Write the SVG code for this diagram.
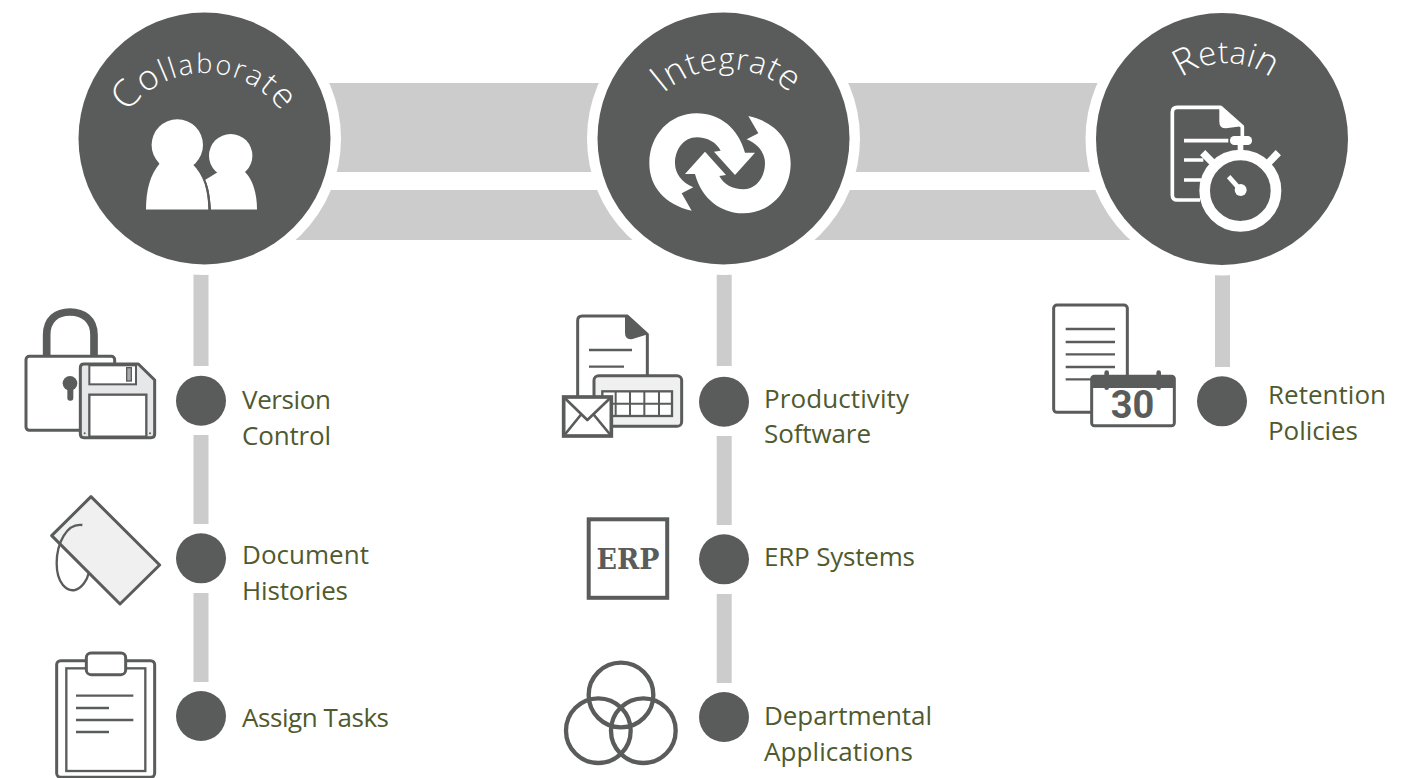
<svg xmlns="http://www.w3.org/2000/svg" width="1417" height="778" viewBox="0 0 1417 778">
<style>
.hub{fill:#5a5c5b}.halo{fill:#fff}.band{fill:#ccc}.dot{fill:#5a5c5b}
.title{font-family:"Open Sans","Liberation Sans",sans-serif;font-weight:300;font-size:30px;fill:#fff;text-anchor:middle}
.lbl{font-family:"Open Sans","Liberation Sans",sans-serif;font-size:26px;fill:#4f5a2f}
.s{fill:none;stroke:#5a5c5b;stroke-linejoin:round}
.w{fill:none;stroke:#fff;stroke-linejoin:round}
.f{fill:#5a5c5b}
</style>
<defs>
<path id="arcC" d="M110,168A95,95 0 0 1 300,168"/>
<path id="arcI" d="M632,164A95,95 0 0 1 822,164"/>
<path id="arcR" d="M1151,138A75,75 0 0 1 1301,138"/>
</defs>
<rect width="1417" height="778" fill="#fff"/>
<g id="connectors">
<rect class="band" x="204" y="83" width="1018" height="89"/>
<rect class="band" x="204" y="190" width="1018" height="50"/>
<rect class="band" x="193.500" y="273" width="15" height="93"/>
<rect class="band" x="193.500" y="435" width="15" height="89"/>
<rect class="band" x="193.500" y="593" width="15" height="89"/>
<rect class="band" x="716.700" y="273" width="15" height="93"/>
<rect class="band" x="716.700" y="436" width="15" height="89"/>
<rect class="band" x="716.700" y="594" width="15" height="89"/>
<rect class="band" x="1215" y="274" width="15" height="93"/>
</g>
<g id="collaborate">
<circle class="halo" cx="204.500" cy="138.500" r="136.500"/>
<circle class="hub" cx="204.500" cy="138.500" r="126"/>
<text class="title" letter-spacing="1.800"><textPath href="#arcC" startOffset="50%"><tspan font-size="38">C</tspan><tspan font-size="35">o</tspan><tspan font-size="31">l</tspan><tspan font-size="29">l</tspan><tspan font-size="28">a</tspan><tspan font-size="27">b</tspan><tspan font-size="27">o</tspan><tspan font-size="28">r</tspan><tspan font-size="29">a</tspan><tspan font-size="32">t</tspan><tspan font-size="35">e</tspan></textPath></text>
<g fill="#fff">
<circle cx="230.700" cy="155.700" r="21.700"/>
<path d="M211,209.500C210,198 209,188 205,180L218,172H245C253,180 257,194 257,209.500Z"/>
<path d="M146,209.500C146,190 150,175 160,163H193C204,175 208,190 208.300,209.500Z"/>
<path d="M193,163C205,175 209,190 209.700,209.500" fill="none" stroke="#5a5c5b" stroke-width="2"/>
<circle cx="177.300" cy="145" r="25.700"/>
</g>
</g>
<g id="integrate">
<circle class="halo" cx="723.500" cy="138.500" r="136.500"/>
<circle class="hub" cx="723.500" cy="138.500" r="126"/>
<text class="title" letter-spacing="0.800"><textPath href="#arcI" startOffset="50%"><tspan font-size="38">I</tspan><tspan font-size="35">n</tspan><tspan font-size="33">t</tspan><tspan font-size="31">e</tspan><tspan font-size="30">g</tspan><tspan font-size="30">r</tspan><tspan font-size="31">a</tspan><tspan font-size="33">t</tspan><tspan font-size="35">e</tspan></textPath></text>
<g transform="translate(580,0) scale(.33333)" fill="#fff">
<path d="M335,632C255,615 208,560 208,490C208,405 270,340 350,340C420,340 475,385 495,458L525,458L465,525L402,455L422,452C410,428 382,412 350,412C312,412 285,448 285,490C285,520 305,548 340,562L305,580Z"/>
<path d="M335,632C255,615 208,560 208,490C208,405 270,340 350,340C420,340 475,385 495,458L525,458L465,525L402,455L422,452C410,428 382,412 350,412C312,412 285,448 285,490C285,520 305,548 340,562L305,580Z" transform="rotate(180 420 490)"/>
</g>
</g>
<g id="retain">
<circle class="halo" cx="1222" cy="139" r="136.500"/>
<circle class="hub" cx="1222" cy="139" r="126"/>
<text class="title"><textPath href="#arcR" startOffset="50%"><tspan font-size="37">R</tspan><tspan font-size="33">e</tspan><tspan font-size="31">t</tspan><tspan font-size="31">a</tspan><tspan font-size="33">i</tspan><tspan font-size="36">n</tspan></textPath></text>
<g transform="translate(1060,0) scale(.33333)">
<path class="w" stroke-width="11" d="M420,600H352Q337,600 337,585V337Q337,322 352,322H482L547,380V412"/>
<path fill="#fff" d="M478,322L478,365Q478,385 498,385L550,378Z"/>
<path class="w" stroke-width="11" d="M372,422H505M372,480H430M372,540H425"/>
<circle class="w" cx="541" cy="572" r="107" stroke-width="32"/>
<rect x="510" y="408" width="66" height="27" rx="13" fill="#fff"/>
<rect x="533" y="430" width="17" height="26" fill="#fff"/>
<path class="w" stroke-width="22" d="M428,458L462,492M655,458L622,492"/>
<circle cx="542" cy="570" r="18" fill="#fff"/>
<path class="w" stroke-width="14" d="M506,530L540,568"/>
</g>
</g>
<g id="version-control">
<circle class="dot" cx="201" cy="400.700" r="25"/>
<text class="lbl" x="242" y="409" textLength="89">Version</text>
<text class="lbl" x="242" y="445" textLength="89">Control</text>
<g transform="translate(10,290) scale(.33333)">
<path class="s" stroke-width="23" d="M110,200V135C110,88 140,66 180,66C220,66 252,88 252,135V200"/>
<rect x="48" y="199" width="266" height="222" rx="10" fill="#fff" stroke="#5a5c5b" stroke-width="9"/>
<circle class="f" cx="180" cy="280" r="22"/>
<rect class="f" x="172" y="285" width="18" height="47" rx="8"/>
<path d="M222,222H385L434,270V432Q434,443 423,443H222Q211,443 211,432V233Q211,222 222,222Z" fill="#e6e7e8" stroke="#5a5c5b" stroke-width="9" stroke-linejoin="round"/>
<rect x="238" y="226" width="140" height="57" fill="#fff" stroke="#5a5c5b" stroke-width="6"/>
<rect x="350" y="233" width="14" height="40" fill="#a7a9ac" stroke="#5a5c5b" stroke-width="4"/>
<rect x="238" y="314" width="171" height="126" fill="#fff" stroke="#5a5c5b" stroke-width="7"/>
<circle class="f" cx="224" cy="430" r="3"/><circle class="f" cx="420" cy="430" r="3"/>
</g>
</g>
<g id="document-histories">
<circle class="dot" cx="201" cy="558.300" r="25"/>
<text class="lbl" x="242" y="564" textLength="127">Document</text>
<text class="lbl" x="242" y="600" textLength="106">Histories</text>
<g transform="translate(10,290) scale(.33333)">
<path d="M243,620L449,825L330,942L125,737Z" fill="#f0f0f1" stroke="#5a5c5b" stroke-width="9" stroke-linejoin="round"/>
<path class="s" stroke-width="7" d="M217,705C170,698 140,760 140,820C140,880 170,905 195,900C215,895 232,870 236,850"/>
</g>
</g>
<g id="assign-tasks">
<circle class="dot" cx="201" cy="716" r="25"/>
<text class="lbl" x="242" y="727" textLength="147">Assign Tasks</text>
<g transform="translate(40,640) scale(.33333)">
<rect x="50" y="62" width="294" height="350" rx="12" fill="#fff" stroke="#5a5c5b" stroke-width="9"/>
<rect x="79" y="85" width="237" height="308" fill="#fff" stroke="#5a5c5b" stroke-width="7"/>
<rect x="139" y="39" width="118" height="65" rx="14" fill="#fff" stroke="#5a5c5b" stroke-width="9"/>
<path class="s" stroke-width="7" d="M108,167H280M108,204H207M108,240H280M108,276H207"/>
</g>
</g>
<g id="productivity-software">
<circle class="dot" cx="724" cy="401.700" r="25"/>
<text class="lbl" x="764" y="408" textLength="145">Productivity</text>
<text class="lbl" x="764" y="443" textLength="107">Software</text>
<g transform="translate(550,300) scale(.33333)">
<path d="M83,295V62Q83,48 97,48H232L292,103V230" fill="#fff" stroke="#5a5c5b" stroke-width="9" stroke-linejoin="round"/>
<path class="f" d="M225,48L232,48L294,103L245,118Q225,118 225,98Z"/>
<path class="s" stroke-width="7" d="M117,150H246M117,200H222"/>
<rect x="132" y="227" width="263" height="152" rx="14" fill="#f0f0f1" stroke="#5a5c5b" stroke-width="9"/>
<rect x="157" y="274" width="209" height="74" fill="#fff" stroke="#5a5c5b" stroke-width="7"/>
<path class="s" stroke-width="6" d="M197,274V348M240,274V348M283,274V348M327,274V348M157,311H366"/>
<rect x="41" y="291" width="143" height="117" fill="#fff" stroke="#5a5c5b" stroke-width="11"/>
<path class="s" stroke-width="8" d="M41,291L112,360L184,291M41,408L92,345M184,408L132,345"/>
</g>
</g>
<g id="erp-systems">
<circle class="dot" cx="724" cy="559.300" r="25"/>
<text class="lbl" x="764" y="566" textLength="151">ERP Systems</text>
<rect x="588.700" y="519.300" width="78.500" height="78.500" fill="#fff" stroke="#5a5c5b" stroke-width="4"/>
<text x="628" y="568.500" font-family="'DejaVu Serif',serif" font-weight="700" font-size="28" fill="#5a5c5b" text-anchor="middle" textLength="63" lengthAdjust="spacingAndGlyphs">ERP</text>
</g>
<g id="departmental-applications">
<circle class="dot" cx="724" cy="717" r="25"/>
<text class="lbl" x="764" y="725" textLength="168">Departmental</text>
<text class="lbl" x="764" y="761" textLength="149">Applications</text>
<g transform="translate(550,500) scale(.33333)" fill="none" stroke="#5a5c5b" stroke-width="13">
<circle cx="213" cy="585" r="97"/>
<circle cx="145" cy="692" r="97"/>
<circle cx="280" cy="692" r="97"/>
</g>
</g>
<g id="retention-policies">
<circle class="dot" cx="1222" cy="401.300" r="25"/>
<text class="lbl" x="1268" y="404" textLength="118">Retention</text>
<text class="lbl" x="1268" y="440" textLength="90">Policies</text>
<g transform="translate(1040,290) scale(.33333)">
<rect x="41" y="45" width="221" height="322" rx="10" fill="#fff" stroke="#5a5c5b" stroke-width="9"/>
<path class="s" stroke-width="7" d="M77,117H225M77,156H225M77,193H225M77,231H225M77,268H225"/>
<rect x="155" y="259" width="248" height="148" rx="8" fill="#fff" stroke="#5a5c5b" stroke-width="9"/>
<rect class="f" x="155" y="259" width="248" height="35"/>
<path class="s" stroke-width="14" stroke-linecap="round" d="M200,248V293M356,248V293"/>
</g>
<text x="1132.500" y="417.500" font-family="'Roboto','Liberation Sans',sans-serif" font-weight="700" font-size="38" fill="#5a5c5b" text-anchor="middle">30</text>
</g>
</svg>
